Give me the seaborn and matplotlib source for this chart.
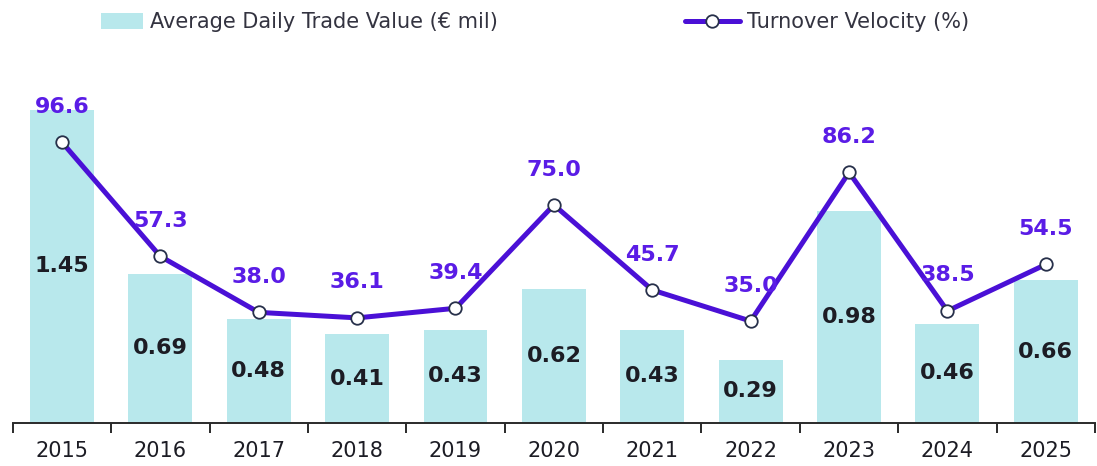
import numpy as np
import pandas as pd
import matplotlib
matplotlib.use("Agg")
import matplotlib.pyplot as plt
import seaborn as sns
from matplotlib.patches import Patch
from matplotlib.lines import Line2D

# ---- data ----
years = ["2015", "2016", "2017", "2018", "2019", "2020", "2021", "2022", "2023", "2024", "2025"]
trade_value = [1.45, 0.69, 0.48, 0.41, 0.43, 0.62, 0.43, 0.29, 0.98, 0.46, 0.66]
velocity = [96.6, 57.3, 38.0, 36.1, 39.4, 75.0, 45.7, 35.0, 86.2, 38.5, 54.5]
bar_label = "Average Daily Trade Value (€ mil)"
line_label = "Turnover Velocity (%)"

# ---- style ----
BAR_COLOR = "#b8e8ec"
LINE_COLOR = "#4a10d6"
LINE_LABEL_COLOR = "#5a1ce6"
MARKER_EDGE = "#27304a"
TEXT_DARK = "#1c1c24"

sns.set_style("white")
plt.rcParams["font.family"] = ["DejaVu Sans"]

df = pd.DataFrame({"year": years, "value": trade_value, "velocity": velocity})
df["pos"] = np.arange(len(df))

fig = plt.figure(figsize=(10.97, 4.66), dpi=100)
ax = fig.add_axes([0.0116, 0.0929, 0.9866, 0.7783])

sns.barplot(data=df, x="year", y="value", ax=ax, color=BAR_COLOR,
            width=0.65, saturation=1, edgecolor="none")
ax.set_xlim(-0.5, len(years) - 0.5)
ax.set_ylim(0, 1.682)

# bar value labels, centered inside the bars
for p, v in zip(ax.patches, trade_value):
    ax.text(p.get_x() + p.get_width() / 2, v / 2, f"{v:.2f}",
            ha="center", va="center", fontsize=16, fontweight="bold",
            color=TEXT_DARK)

ax2 = ax.twinx()
sns.lineplot(data=df, x="pos", y="velocity", ax=ax2, color=LINE_COLOR,
             linewidth=3.6, marker="o", markersize=9,
             markerfacecolor="white", markeredgecolor=MARKER_EDGE,
             markeredgewidth=1.3, zorder=5)
ax2.set_ylim(0, 124.9)
ax2.set_xlim(-0.5, len(years) - 0.5)

for x, v in zip(df["pos"], velocity):
    ax2.annotate(f"{v:.1f}", (x, v), xytext=(0, 25.5), textcoords="offset points",
                 ha="center", va="center", fontsize=16, fontweight="bold",
                 color=LINE_LABEL_COLOR, zorder=6)

# axes cosmetics
for a in (ax, ax2):
    for s in ("top", "left", "right"):
        a.spines[s].set_visible(False)
    a.set_ylabel("")
    a.set_xlabel("")
    a.set_yticks([])
ax2.spines["bottom"].set_visible(False)
ax2.set_xticks([])

ax.spines["bottom"].set_color("#2a2a2a")
ax.spines["bottom"].set_linewidth(1.4)
ax.set_xticks(np.arange(len(years)))
ax.set_xticklabels(years, fontsize=15, color=TEXT_DARK)
ax.tick_params(axis="x", which="major", length=0, pad=13)
ax.set_xticks(np.arange(len(years) + 1) - 0.5, minor=True)
ax.tick_params(axis="x", which="minor", length=7, width=1.4, color="#2a2a2a",
               direction="out", bottom=True)

# legend: two separate entries placed like the reference
bar_handle = Patch(facecolor=BAR_COLOR, edgecolor="none", label=bar_label)
line_handle = Line2D([0], [0], color=LINE_COLOR, linewidth=3.6, marker="o",
                     markersize=9, markerfacecolor="white",
                     markeredgecolor=MARKER_EDGE, markeredgewidth=1.3,
                     label=line_label)
leg1 = fig.legend(handles=[bar_handle], loc="center left",
                  bbox_to_anchor=(0.092, 0.953), frameon=False, fontsize=15,
                  handlelength=2.0, handleheight=0.8, handletextpad=0.35,
                  borderpad=0, borderaxespad=0, labelcolor="#333340")
leg2 = fig.legend(handles=[line_handle], loc="center left",
                  bbox_to_anchor=(0.624, 0.953), frameon=False, fontsize=15,
                  handlelength=2.65, handletextpad=0.35,
                  borderpad=0, borderaxespad=0, labelcolor="#333340")

fig.savefig("out.png", dpi=100)
